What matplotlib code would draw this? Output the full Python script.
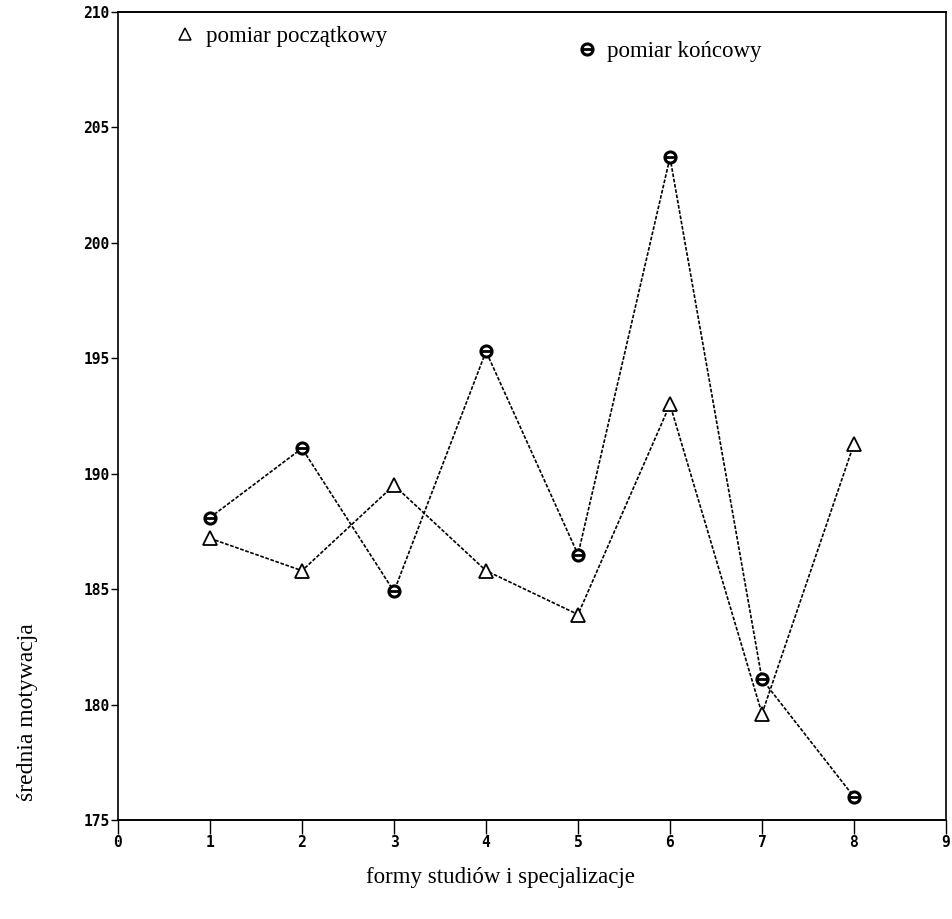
import matplotlib
matplotlib.use("Agg")
import matplotlib.pyplot as plt
from matplotlib.lines import Line2D
from matplotlib.legend_handler import HandlerTuple

# ---- data ----
groups = [1, 2, 3, 4, 5, 6, 7, 8]
pomiar_poczatkowy = [187.2, 185.8, 189.5, 185.8, 183.9, 193.0, 179.6, 191.3]
pomiar_koncowy = [188.1, 191.1, 184.9, 195.3, 186.5, 203.7, 181.1, 176.0]
xticks = [0, 1, 2, 3, 4, 5, 6, 7, 8, 9]
yticks = [175, 180, 185, 190, 195, 200, 205, 210]
label_start = "pomiar początkowy"
label_end = "pomiar końcowy"
xlabel = "formy studiów i specjalizacje"
ylabel = "średnia motywacja"

W, H = 952, 919
fig = plt.figure(figsize=(W / 100, H / 100), dpi=100)
ax = fig.add_axes([118 / W, 1 - 820 / H, (946 - 118) / W, (820 - 12) / H])

ls = (0, (2.2, 1.0))
ax.plot(groups, pomiar_poczatkowy, color="black", lw=1.2, ls=ls, zorder=2)
ax.plot(groups, pomiar_koncowy, color="black", lw=1.2, ls=ls, zorder=2)
ax.plot(groups, pomiar_poczatkowy, ls="none", marker="^", ms=10, mfc="white",
        mec="black", mew=1.3, zorder=3)
ax.plot(groups, pomiar_koncowy, ls="none", marker="o", ms=8, mfc="white",
        mec="black", mew=2.2, zorder=3)
ax.plot(groups, pomiar_koncowy, ls="none", marker="_", ms=7, mec="black",
        mew=2.0, zorder=4)

ax.set_xlim(0, 9)
ax.set_ylim(175, 210)
ax.set_xticks(xticks)
ax.set_xticklabels([str(v) for v in xticks])
ax.set_yticks(yticks)
ax.set_yticklabels([str(v) for v in yticks])

for t in ax.get_xticklabels() + ax.get_yticklabels():
    t.set_fontfamily("DejaVu Sans Mono")
    t.set_fontsize(10.5)
    t.set_fontweight("bold")

ax.tick_params(axis="x", direction="out", length=10, width=1.0, pad=1)
ax.tick_params(axis="y", direction="out", length=5, width=1.0, pad=1)
for tl in ax.xaxis.get_ticklines():
    tl.set_linestyle((0, (2, 1)))

for side in ["top", "bottom"]:
    ax.spines[side].set_linewidth(1.4)
for side in ["left", "right"]:
    ax.spines[side].set_linewidth(1.2)
    ax.spines[side].set_linestyle((0, (2, 1)))

serif = ["Liberation Serif", "DejaVu Serif"]

h1 = Line2D([], [], ls="none", marker="^", ms=9, mfc="white", mec="black", mew=1.1)
h2a = Line2D([], [], ls="none", marker="o", ms=8, mfc="white", mec="black", mew=2.2)
h2b = Line2D([], [], ls="none", marker="_", ms=7, mec="black", mew=2.0)

leg1 = ax.legend([h1], [label_start], loc="upper left",
                 bbox_to_anchor=(0.045, 1.008), frameon=False,
                 prop={"family": serif, "size": 16.5}, handlelength=0.8,
                 handletextpad=0.5)
ax.add_artist(leg1)
ax.legend([(h2a, h2b)], [label_end], loc="upper left",
          bbox_to_anchor=(0.53, 0.99), frameon=False,
          prop={"family": serif, "size": 16.5}, handlelength=0.8,
          handletextpad=0.5, handler_map={tuple: HandlerTuple(ndivide=1)})

fig.text(500 / W, 1 - 878 / H, xlabel, ha="center", va="center",
         family=serif, fontsize=16.5)
fig.text(28 / W, 1 - 712 / H, ylabel, ha="center", va="center",
         rotation=90, family=serif, fontsize=17)

fig.savefig("out.png", dpi=100)
